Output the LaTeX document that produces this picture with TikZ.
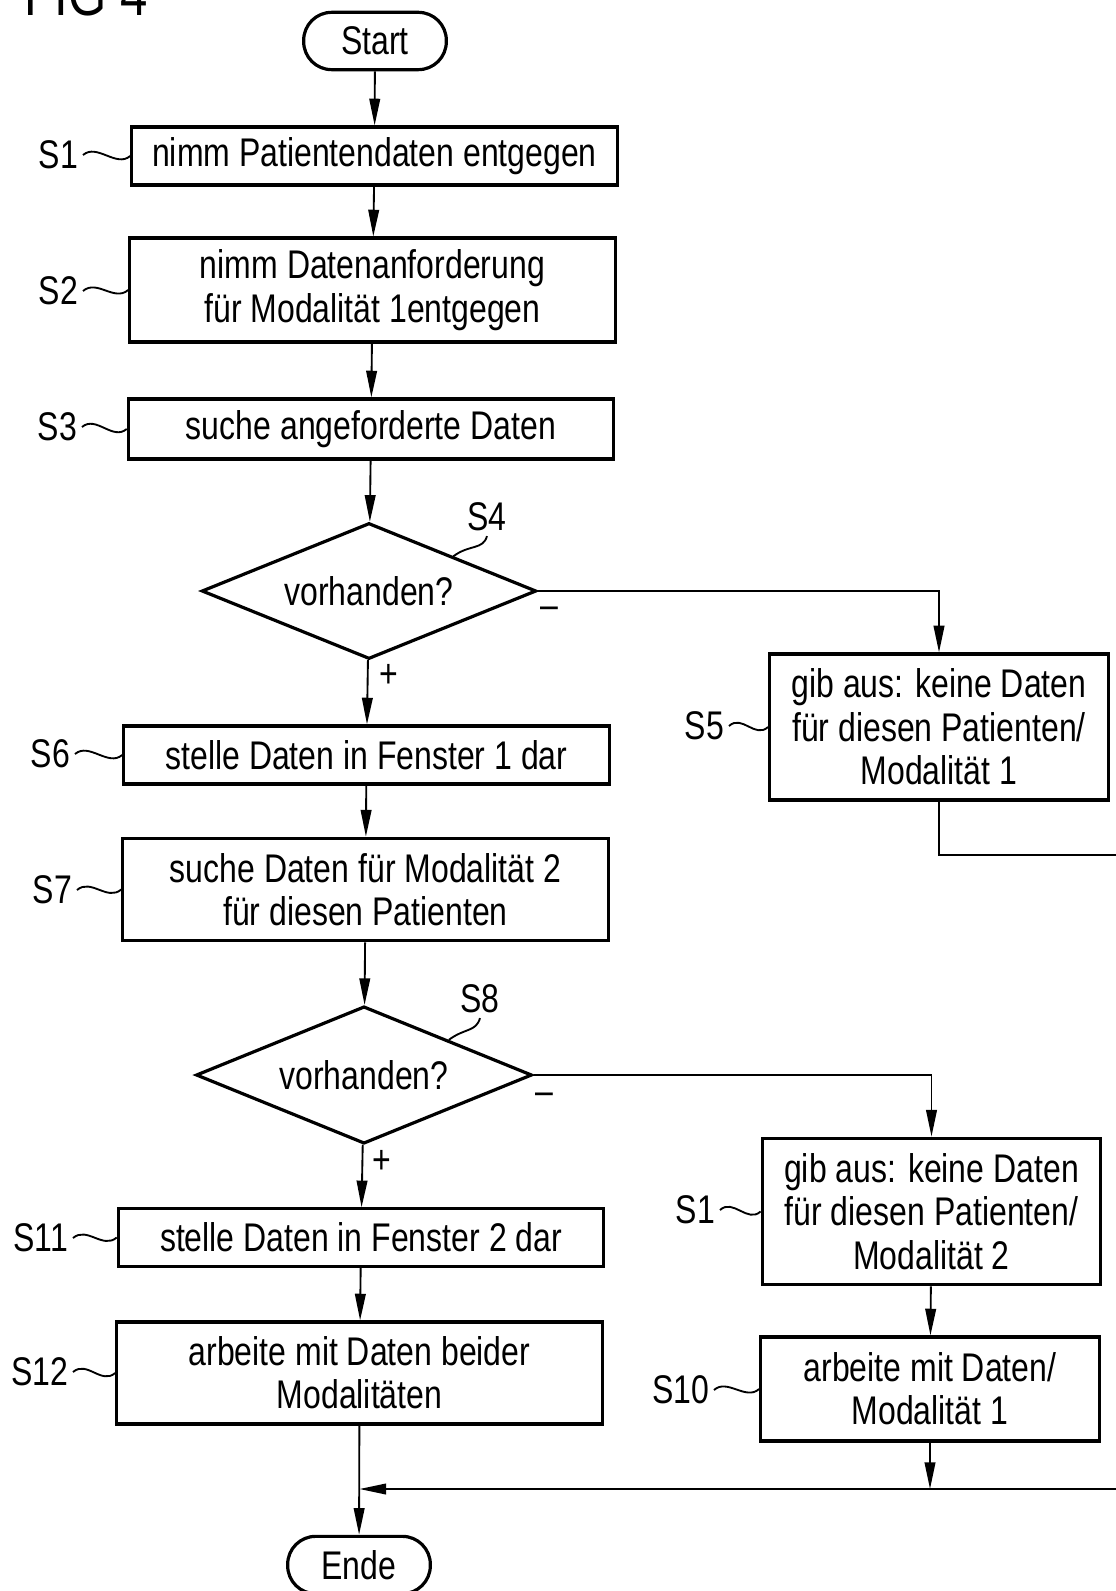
\documentclass[tikz,border=0pt]{standalone}
\usepackage{fontspec}
\setmainfont{Liberation Sans}[FakeStretch=0.8]
\usetikzlibrary{shapes.geometric,arrows.meta}

\newcommand{\flowfont}{\fontsize{30}{32.5}\selectfont}
\tikzset{every picture/.style={line width=1.4pt}}
\tikzset{
	stepbox/.style={draw, rectangle, line width=2.4pt, inner sep=0pt, align=center,
		minimum width=364pt, font=\flowfont},
	sidebox/.style={stepbox, minimum width=254pt},
	query/.style={draw, diamond, aspect=2.45, line width=2.4pt, inner sep=0pt,
		minimum width=251pt, minimum height=102pt, font=\flowfont},
	term/.style={draw, rectangle, rounded corners=21pt, line width=2.4pt, inner sep=0pt,
		minimum width=107pt, minimum height=43pt, font=\flowfont},
	steplabel/.style={inner sep=3pt, font=\flowfont},
	flow/.style={-{Triangle[length=20pt,width=8pt]}}}

\begin{document}
\begin{tikzpicture}[x=0.75pt,y=0.75pt,yscale=-1,xscale=1]
		\useasboundingbox (0,0) rectangle (1116,1591);

		% Text Node
		\node[anchor=base west, inner sep=0pt, font=\fontsize{46}{46}\selectfont] (fig) at (24,16) {FIG 4};

		%Shape: Terminal
		\node[term] (start) at (375,41) {Start};
		%Shape: Rectangle
		\node[stepbox, minimum height=43.5pt] (s1) at (374.5,156) {nimm Patientendaten entgegen};
		\node[stepbox, minimum height=78pt] (s2) at (372.5,290) {nimm Datenanforderung\\für Modalität 1entgegen};
		\node[stepbox, minimum height=45pt] (s3) at (371,429) {suche angeforderte Daten};
		%Shape: Diamond
		\node[query] (s4) at (369,591) {vorhanden?};
		\node[sidebox, minimum height=109.5pt] (s5) at (939,727) {gib aus: keine Daten\\für diesen Patienten/\\Modalität 1};
		\node[stepbox, minimum height=43.5pt] (s6) at (366.5,755) {stelle Daten in Fenster 1 dar};
		\node[stepbox, minimum height=77pt] (s7) at (365.5,889.5) {suche Daten für Modalität 2\\für diesen Patienten};
		%Shape: Diamond
		\node[query, minimum width=252pt, minimum height=103pt] (s8) at (364,1075) {vorhanden?};
		\node[sidebox, minimum height=110pt] (s9) at (931.5,1211.5) {gib aus: keine Daten\\für diesen Patienten/\\Modalität 2};
		\node[stepbox, minimum height=43pt] (s11) at (361,1237.5) {stelle Daten in Fenster 2 dar};
		\node[stepbox, minimum height=76.5pt] (s12) at (359.5,1373) {arbeite mit Daten beider\\Modalitäten};
		\node[sidebox, minimum height=78pt] (s10) at (930,1389) {arbeite mit Daten/\\Modalität 1};
		%Shape: Terminal
		\node[term] (ende) at (359,1565) {Ende};

		% Text Node
		\node[steplabel, anchor=east] (l1) at (83,155) {S1};
		\node[steplabel, anchor=east] (l2) at (83,291) {S2};
		\node[steplabel, anchor=east] (l3) at (82,427) {S3};
		\node[steplabel] (l4) at (487,517) {S4};
		\node[steplabel, anchor=east] (l5) at (729,726) {S5};
		\node[steplabel, anchor=east] (l6) at (75,754) {S6};
		\node[steplabel, anchor=east] (l7) at (77,890) {S7};
		\node[steplabel] (l8) at (480,999) {S8};
		\node[steplabel, anchor=east] (l9) at (720,1210) {S1};
		\node[steplabel, anchor=east] (l10) at (714,1390) {S10};
		\node[steplabel, anchor=east] (l11) at (73,1238) {S11};
		\node[steplabel, anchor=east] (l12) at (73,1372) {S12};
		\node[steplabel] (p4) at (389,676) {+};
		\node[steplabel] (m4) at (549,613) {–};
		\node[steplabel] (p8) at (382,1162) {+};
		\node[steplabel] (m8) at (544,1099) {–};

		%Curve Lines
		\draw (l1.east) .. controls +(14,-12) and +(-14,12) .. (s1.west);
		\draw (l2.east) .. controls +(14,-12) and +(-14,12) .. (s2.west);
		\draw (l3.east) .. controls +(14,-12) and +(-14,12) .. (s3.west);
		\draw (l5.east) .. controls +(13,-12) and +(-13,12) .. (s5.west);
		\draw (l6.east) .. controls +(14,-12) and +(-14,12) .. (s6.west);
		\draw (l7.east) .. controls +(14,-12) and +(-14,12) .. (s7.west);
		\draw (l9.east) .. controls +(13,-12) and +(-13,12) .. (s9.west);
		\draw (l10.east) .. controls +(13,-12) and +(-13,12) .. (s10.west);
		\draw (l11.east) .. controls +(14,-12) and +(-14,12) .. (s11.west);
		\draw (l12.east) .. controls +(14,-12) and +(-14,12) .. (s12.west);
		\draw (l4.south) .. controls +(-4,14) and +(16,-12) .. (s4.north east);
		\draw (l8.south) .. controls +(-4,14) and +(16,-12) .. (s8.north east);

		%Straight Lines
		\draw[flow] (start) -- (s1);
		\draw[flow] (s1) -- (s2);
		\draw[flow] (s2) -- (s3);
		\draw[flow] (s3) -- (s4);
		\draw[flow] (s4) -- (s6);
		\draw[flow] (s4.east) -| (s5);
		\draw[flow] (s6) -- (s7);
		\draw[flow] (s7) -- (s8);
		\draw[flow] (s8) -- (s11);
		\draw[flow] (s8.east) -| (s9);
		\draw[flow] (s11) -- (s12);
		\draw[flow] (s9) -- (s10);
		\draw[flow] (s12) -- (ende);

		\coordinate (out5) at (1120,855);
		\coordinate (join) at (359.5,1489);
		\coordinate (out10) at (1120,1489);
		\draw (s5) |- (out5);
		\draw[flow] (out10) -- (join);
		\draw[flow] (s10) -- (s10 |- join);

\end{tikzpicture}
\end{document}
